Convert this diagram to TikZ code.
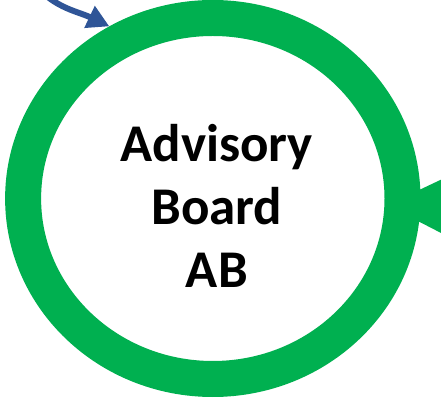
\documentclass[tikz,border=0pt]{standalone}
\usepackage{fontspec}
\setmainfont{Carlito}
\usetikzlibrary{arrows.meta,shapes.geometric,positioning}
\definecolor{boardgreen}{HTML}{00B050}
\definecolor{linkblue}{HTML}{2F5597}

\begin{document}
\begin{tikzpicture}[x=1pt,y=1pt,
        board/.style={ellipse,draw=boardgreen,line width=36pt,fill=white,
            minimum width=379.4pt,minimum height=361pt,inner sep=0pt},
        boardtext/.style={align=center,inner sep=0pt,
            font=\bfseries\fontsize{53}{63}\selectfont},
        feedin/.style={-{Triangle[length=22pt,width=23pt]},draw=linkblue,line width=6pt},
        feedout/.style={-{Triangle[length=70pt,width=65pt]},draw=boardgreen,line width=12pt}]
            \useasboundingbox (0,0) rectangle (441,398);
            \clip (0,0) rectangle (441,398);

            \node[board]     (ab)     at (212.8,199.5) {};
            \node[boardtext] (abtext) at ([xshift=4pt,yshift=-7.75pt]ab.center) {Advisory\\Board\\AB};
            \coordinate (src)  at (30,420);
            \coordinate (sink) at (530,190.4);

            \path
                (src)  edge [feedin, out=-55, in=154.5] (ab.121.6)
                (sink) edge [feedout, shorten >=-34pt] (ab.-2.5)
                ;
        \end{tikzpicture}
\end{document}
